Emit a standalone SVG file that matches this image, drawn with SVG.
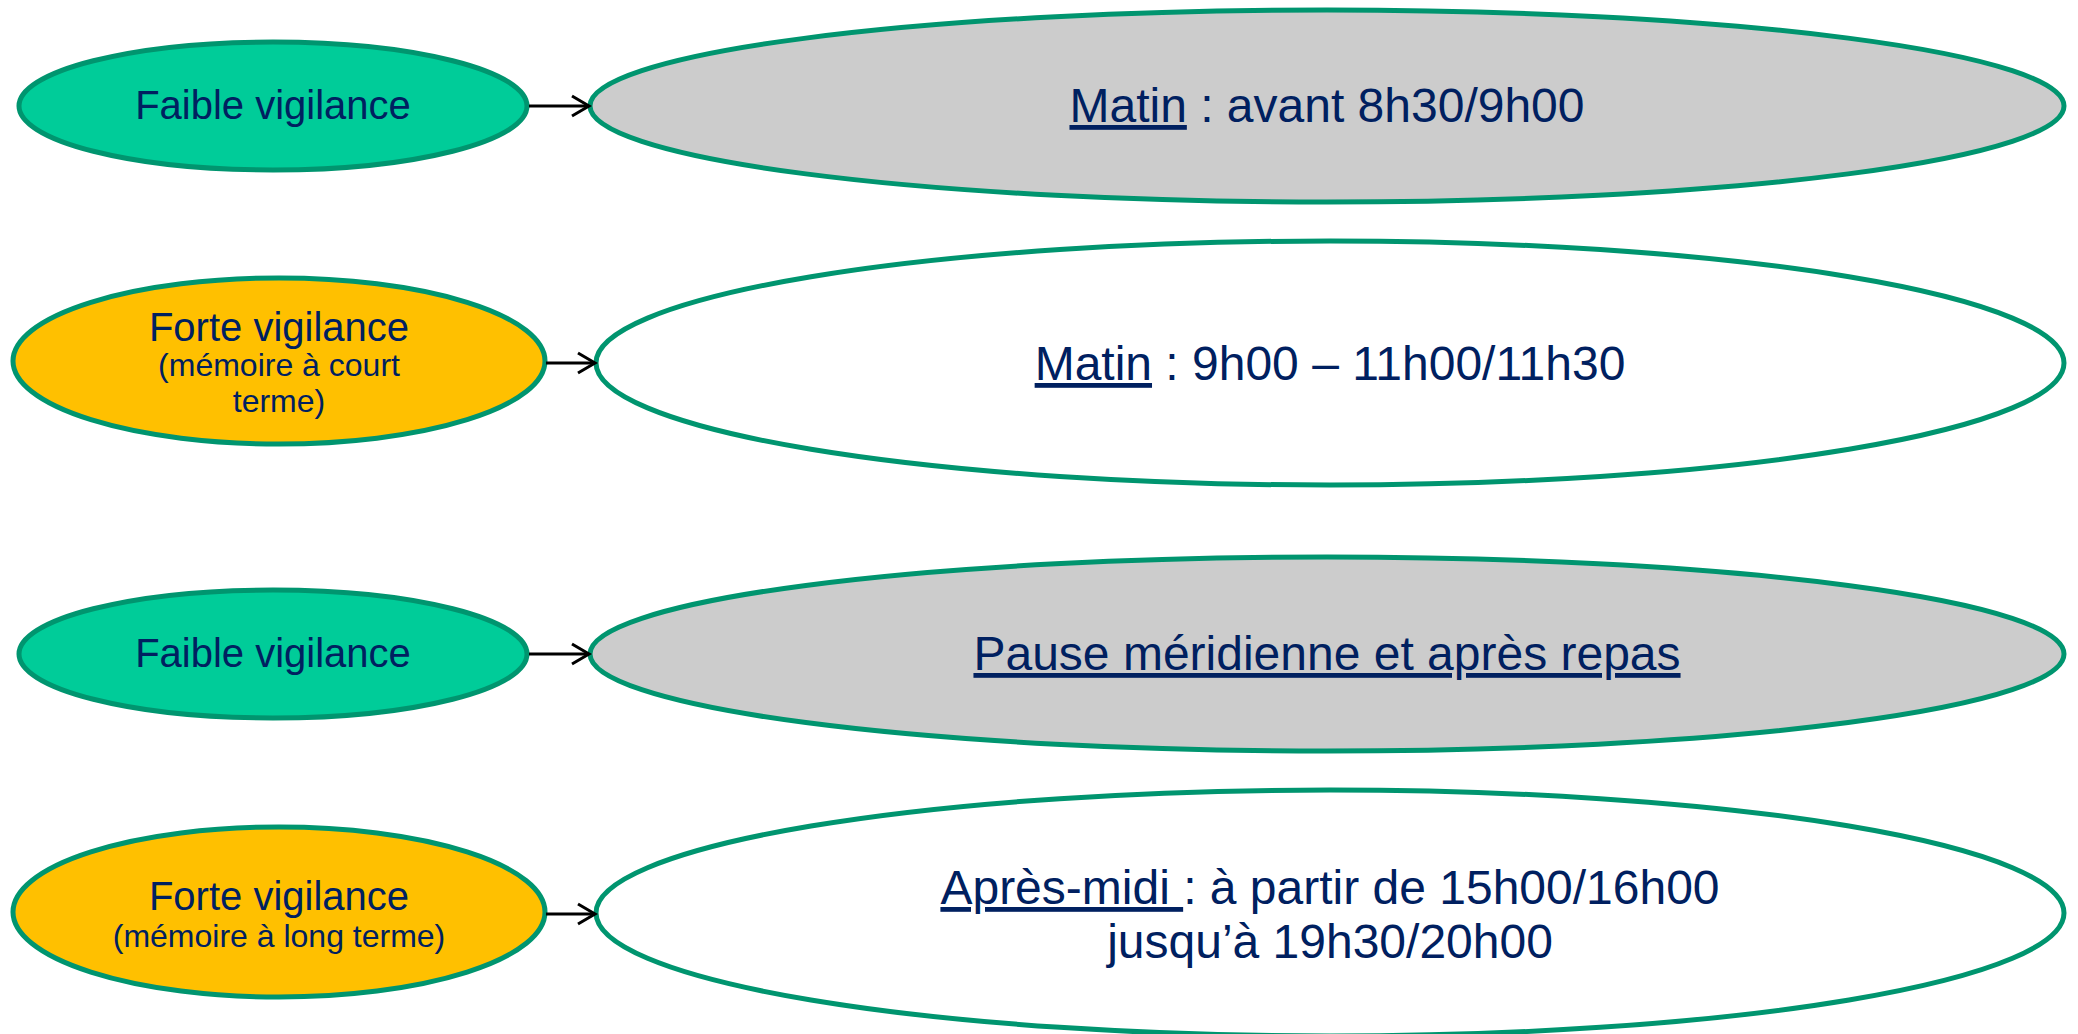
<svg xmlns="http://www.w3.org/2000/svg" width="2078" height="1034" viewBox="0 0 2078 1034">
<style>
.node ellipse{stroke:#00956F;stroke-width:5}
.g{fill:#00CC99}
.o{fill:#FFC000}
.gr{fill:#CCCCCC}
.w{fill:#FFFFFF}
text{font-family:"Liberation Sans",Arial,sans-serif;fill:#002060;text-anchor:middle}
.s{font-size:40px}
.sub{font-size:32px}
.b{font-size:48px}
.u{text-decoration:underline}
.conn line{stroke:#000;stroke-width:3;marker-end:url(#ah)}
</style>
<defs>
<marker id="ah" markerUnits="userSpaceOnUse" markerWidth="22" markerHeight="26" refX="19" refY="12" orient="auto">
<path d="M2,2 L19,12 L2,22" fill="none" stroke="#000" stroke-width="3"/>
</marker>
</defs>
<rect width="2078" height="1034" fill="#FFFFFF"/>
<g id="n1" class="node"><ellipse class="g" cx="273" cy="106" rx="254" ry="64"/><text class="s" x="273" y="119">Faible vigilance</text></g>
<g id="n2" class="node"><ellipse class="gr" cx="1327" cy="106" rx="737" ry="96"/><text class="b" x="1327" y="122"><tspan class="u">Matin</tspan> : avant 8h30/9h00</text></g>
<g id="n3" class="node"><ellipse class="o" cx="279" cy="361" rx="266" ry="83"/><text class="s" x="279" y="341">Forte vigilance</text><text class="sub" x="279" y="376">(mémoire à court</text><text class="sub" x="279" y="412">terme)</text></g>
<g id="n4" class="node"><ellipse class="w" cx="1330" cy="363" rx="734" ry="122"/><text class="b" x="1330" y="380"><tspan class="u">Matin</tspan> : 9h00 – 11h00/11h30</text></g>
<g id="n5" class="node"><ellipse class="g" cx="273" cy="654" rx="254" ry="64"/><text class="s" x="273" y="667">Faible vigilance</text></g>
<g id="n6" class="node"><ellipse class="gr" cx="1327" cy="654" rx="737" ry="97"/><text class="b" x="1327" y="670"><tspan class="u">Pause méridienne et après repas</tspan></text></g>
<g id="n7" class="node"><ellipse class="o" cx="279" cy="912" rx="266" ry="85"/><text class="s" x="279" y="910">Forte vigilance</text><text class="sub" x="279" y="947">(mémoire à long terme)</text></g>
<g id="n8" class="node"><ellipse class="w" cx="1330" cy="913" rx="734" ry="123"/><text class="b" x="1330" y="904"><tspan class="u">Après-midi </tspan>: à partir de 15h00/16h00</text><text class="b" x="1330" y="958">jusqu’à 19h30/20h00</text></g>
<g id="connectors" class="conn">
<line x1="529" y1="106" x2="589" y2="106"/>
<line x1="546" y1="363" x2="595" y2="363"/>
<line x1="529" y1="654" x2="589" y2="654"/>
<line x1="546" y1="914" x2="595" y2="914"/>
</g>
</svg>
